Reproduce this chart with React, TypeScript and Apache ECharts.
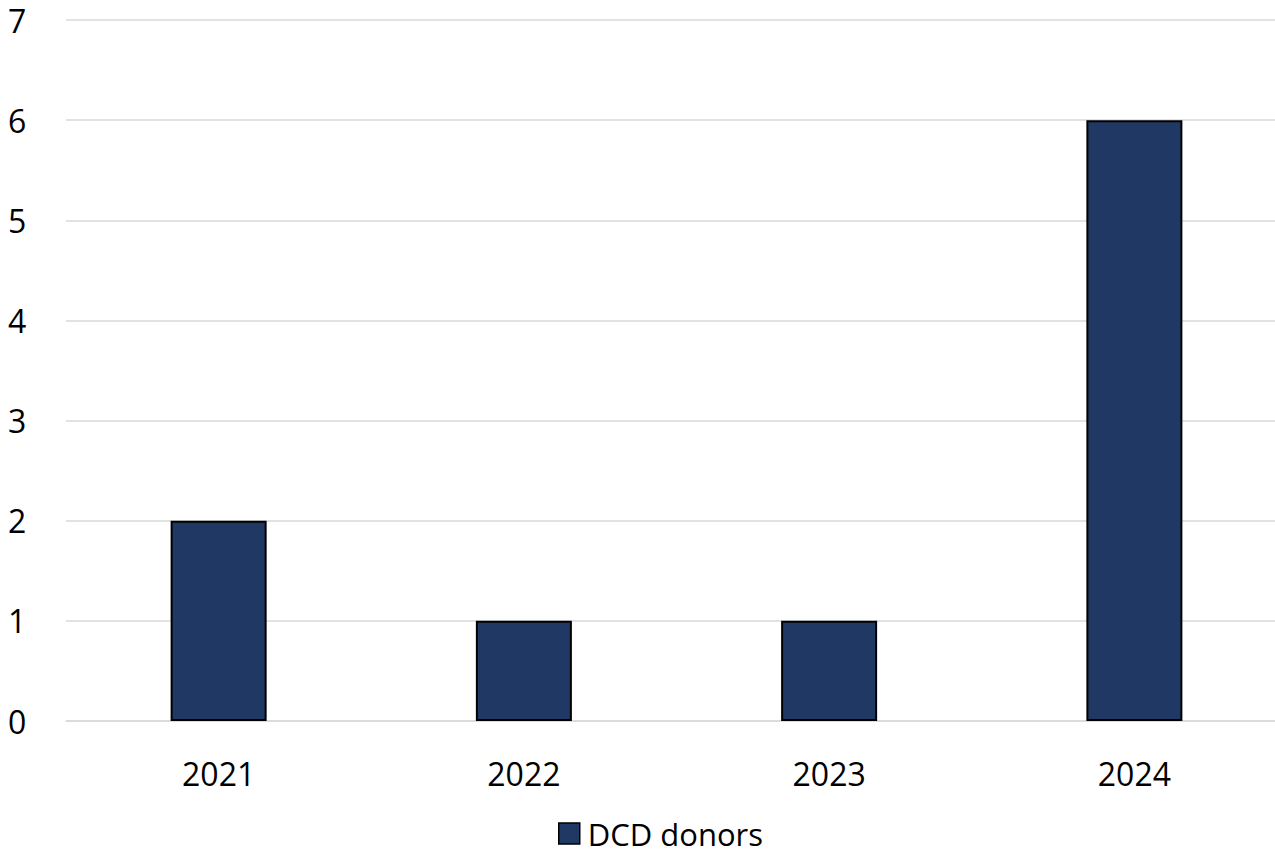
import React, { useEffect, useRef } from "react";
import * as echarts from "echarts";

const categories = ["2021", "2022", "2023", "2024"];
const dcdDonors = [2, 1, 1, 6];
const seriesName = "DCD donors";

export default function App() {
  const ref = useRef<HTMLDivElement>(null);
  useEffect(() => {
    const chart = echarts.init(ref.current!, null, { renderer: "svg" });
    const font = "'Open Sans', sans-serif";
    chart.setOption({
      animation: false,
      backgroundColor: "#ffffff",
      grid: { left: 66, right: 0, top: 20, bottom: 132, containLabel: false },
      legend: {
        data: [seriesName],
        left: 558,
        top: 818,
        padding: 0,
        itemWidth: 21,
        itemHeight: 21,
        itemGap: 8,
        icon: "rect",
        itemStyle: { borderColor: "#000", borderWidth: 1.5 },
        textStyle: {
          fontFamily: font,
          fontSize: 31,
          lineHeight: 28,
          color: "#000",
          padding: [0, 0, 0, 3],
        },
      },
      xAxis: {
        type: "category",
        data: categories,
        axisTick: { show: false },
        axisLine: { lineStyle: { color: "#d9d9d9", width: 1.5 } },
        axisLabel: { fontFamily: font, fontSize: 32, color: "#000", margin: 36 },
      },
      yAxis: {
        type: "value",
        min: 0,
        max: 7,
        interval: 1,
        axisLine: { show: false },
        axisTick: { show: false },
        splitLine: { lineStyle: { color: "#d9d9d9", width: 1.5 } },
        axisLabel: { fontFamily: font, fontSize: 32, color: "#000", align: "left", margin: 58 },
      },
      series: [
        {
          name: seriesName,
          type: "bar",
          data: dcdDonors,
          barWidth: 96,
          itemStyle: { color: "#203864", borderColor: "#000", borderWidth: 2 },
        },
      ],
    });
    return () => chart.dispose();
  }, []);
  return (
    <div
      ref={ref}
      style={{ position: "absolute", left: 0, top: 0, width: 1287, height: 853 }}
    />
  );
}
